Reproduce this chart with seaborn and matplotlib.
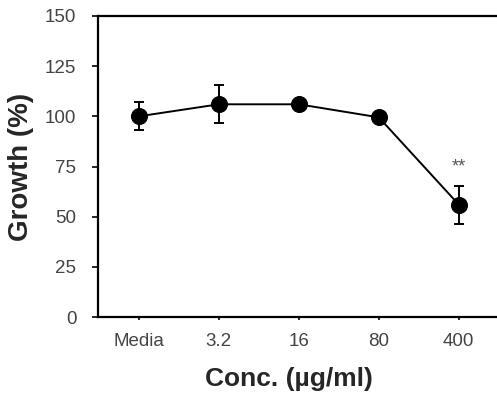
import matplotlib
matplotlib.use('Agg')
import matplotlib.pyplot as plt
import seaborn as sns
import pandas as pd

# values
conc = ['Media', '3.2', '16', '80', '400']
growth = [100, 106, 106, 99.5, 56]
err = [7, 9.5, 1.5, 1.5, 9.5]
sig_label = '**'
sig_y = 75

sns.set_style('ticks')
plt.rcParams['font.family'] = ['Liberation Sans', 'DejaVu Sans']

df = pd.DataFrame({'conc': conc, 'growth': growth, 'err': err})

fig = plt.figure(figsize=(4.97, 3.95), dpi=100)
ax = fig.add_axes([98 / 497, 78 / 395, 400 / 497, 301 / 395])

ax.errorbar(df['conc'], df['growth'], yerr=df['err'], fmt='none',
            ecolor='black', elinewidth=1.4, capsize=3.8, capthick=1.4, zorder=2)
sns.lineplot(data=df, x='conc', y='growth', sort=False, color='black',
             linewidth=1.4, marker='o', markersize=11.5, markeredgecolor='black',
             ax=ax, zorder=3)

ax.text(4, sig_y, sig_label, ha='center', va='center', fontsize=13, color='#555555')

ax.set_ylim(0, 150)
ax.set_xlim(-0.51, 4.49)
ax.set_yticks([0, 25, 50, 75, 100, 125, 150])
ax.set_xlabel('Conc. (µg/ml)', fontsize=19, fontweight='bold')
ax.set_ylabel('Growth (%)', fontsize=20, fontweight='bold')
ax.xaxis.set_label_coords(0.478, -0.165)
ax.yaxis.set_label_coords(-0.16, 0.5)
ax.tick_params(axis='both', colors='black', labelcolor='#444444', labelsize=13.5,
               width=1.2, direction='out')
ax.tick_params(axis='y', length=4.5, pad=11)
ax.tick_params(axis='x', length=2.5, pad=9)
for s in ['left', 'bottom', 'top']:
    ax.spines[s].set_linewidth(1.6)
    ax.spines[s].set_color('black')
ax.spines['right'].set_visible(False)

fig.savefig('out.png', dpi=100)
